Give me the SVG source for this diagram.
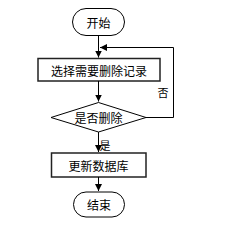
<svg xmlns="http://www.w3.org/2000/svg" width="234" height="231" viewBox="0 0 234 231">
<style>
.s{fill:#fff;stroke:#000;stroke-width:1}
.b{fill:#fff;stroke:#222;stroke-width:1.5}
.l{fill:none;stroke:#000;stroke-width:1}
text{font-family:"Noto Sans CJK SC","Liberation Sans",sans-serif;font-size:12px;fill:#000;text-anchor:middle;dominant-baseline:central}
.sm{font-size:11px}
</style>
<defs>
<marker id="a" markerWidth="8" markerHeight="8" refX="7" refY="4" orient="auto" markerUnits="userSpaceOnUse">
<path d="M0,0.5 L7,4 L0,7.5 Z" fill="#000"/>
</marker>
</defs>
<g id="start"><rect class="s" x="72.5" y="8.5" width="52" height="27" rx="13.5"/><text x="98.5" y="22">开始</text></g>
<g id="select"><rect class="b" x="38" y="58.5" width="122" height="22.5"/><text x="99" y="70">选择需要删除记录</text></g>
<g id="decide"><polygon class="s" points="98.5,102.5 146,117.5 98.5,132 51,117.5"/><text x="98.5" y="117.5">是否删除</text></g>
<g id="update"><rect class="b" x="51.5" y="153" width="94.5" height="24"/><text x="98.5" y="165">更新数据库</text></g>
<g id="end"><rect class="s" x="73.5" y="192" width="51" height="25" rx="12.5"/><text x="99" y="204.5">结束</text></g>
<g id="connectors">
<line class="l" x1="98.5" y1="35.5" x2="98.5" y2="57.5" marker-end="url(#a)"/>
<line class="l" x1="98.5" y1="81" x2="98.5" y2="101.5" marker-end="url(#a)"/>
<line class="l" x1="98.5" y1="132" x2="98.5" y2="152" marker-end="url(#a)"/>
<line class="l" x1="98.5" y1="177" x2="98.5" y2="191" marker-end="url(#a)"/>
<polyline class="l" points="146,117.5 173.5,117.5 173.5,47.5 100,47.5" marker-end="url(#a)"/>
<text class="sm" x="163" y="92">否</text>
<text class="sm" x="105" y="145">是</text>
</g>
</svg>
